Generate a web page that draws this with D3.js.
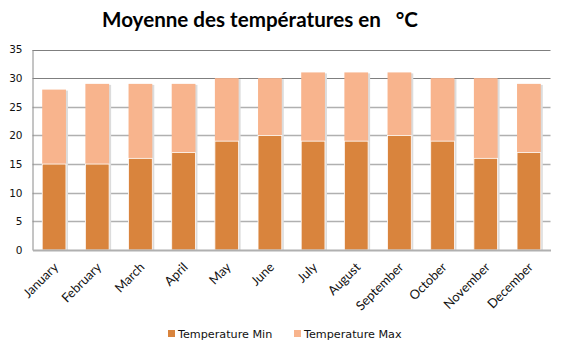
<!DOCTYPE html>
<html><head><meta charset="utf-8">
<script src="https://cdn.jsdelivr.net/npm/d3@7"></script>
<style>body{margin:0;background:#fff}</style>
</head><body>
<script>
const months = ["January","February","March","April","May","June","July","August","September","October","November","December"];
const tempMin = [15,15,16,17,19,20,19,19,20,19,16,17];
const tempMax = [28,29,29,29,30,30,31,31,31,30,30,29];
const yTicks = [0,5,10,15,20,25,30,35];
const seriesNames = ["Temperature Min","Temperature Max"];
const colors = {min:"#D9843D", max:"#F8B48D"};

const W=565,H=353;
const svg=d3.select("body").append("svg").attr("width",W).attr("height",H);
const m={l:32.5,r:14.5,t:49.5,b:103};
const x=d3.scaleBand().domain(months).range([m.l,W-m.r]).paddingInner(0.45).paddingOuter(0.225);
const y=d3.scaleLinear().domain([0,35]).range([H-m.b,m.t]);

svg.append("text").attr("x",260).attr("y",27).attr("text-anchor","middle")
  .attr("font-family","Lato, 'Open Sans', sans-serif").attr("font-weight","bold").attr("font-size",20.6)
  .style("white-space","pre")
  .text("Moyenne des températures en   °C");

// gridlines
svg.append("g").selectAll("line").data(yTicks.filter(d=>d>0)).join("line")
  .attr("x1",m.l).attr("x2",W-m.r).attr("y1",d=>Math.round(y(d))+0.5).attr("y2",d=>Math.round(y(d))+0.5)
  .attr("stroke",d=>d>=30?"#7f7f7f":"#b0b0b0").attr("stroke-width",d=>d>=30?1:1.6);

// y axis
const ya=svg.append("g").attr("transform",`translate(${m.l},0)`).call(d3.axisLeft(y).tickValues(yTicks).tickSize(0).tickPadding(10));
ya.select(".domain").attr("stroke","#8a8a8a");
ya.selectAll("text").attr("font-family","'DejaVu Sans', sans-serif").attr("font-size",10.5).attr("fill","#111");

// bars
const g=svg.append("g");
g.selectAll("rect.sh").data(months).join("rect").attr("class","sh")
  .attr("x",d=>x(d)+2).attr("width",x.bandwidth()).attr("y",(d,i)=>y(tempMax[i])+1)
  .attr("height",(d,i)=>y(0)-y(tempMax[i])-1).attr("fill","#dcdcdc");
g.selectAll("rect.mx").data(months).join("rect").attr("class","mx")
  .attr("x",d=>x(d)).attr("width",x.bandwidth()).attr("y",(d,i)=>y(tempMax[i]))
  .attr("height",(d,i)=>y(0)-y(tempMax[i])).attr("fill",colors.max);
g.selectAll("rect.mn").data(months).join("rect").attr("class","mn")
  .attr("x",d=>x(d)).attr("width",x.bandwidth()).attr("y",(d,i)=>y(tempMin[i]))
  .attr("height",(d,i)=>y(0)-y(tempMin[i])).attr("fill",colors.min)
  .attr("stroke","#fff").attr("stroke-width",0.8);

// x axis
const xa=svg.append("g").attr("transform",`translate(0,${y(0)})`).call(d3.axisBottom(x).tickSize(0));
xa.select(".domain").attr("stroke","#b0b0b0").attr("stroke-width",2);
xa.selectAll("text").attr("font-family","Lato, sans-serif").attr("font-size",12.8).attr("fill","#111")
  .attr("text-anchor","end").attr("x",0).attr("y",0).attr("dx",0).attr("dy",0)
  .attr("transform","translate(5,18) rotate(-45)");

// legend
const leg=svg.append("g").attr("font-family","'DejaVu Sans', sans-serif").attr("font-size",11.2);
const lx=[168,294];
seriesNames.forEach((n,i)=>{
  leg.append("rect").attr("x",lx[i]).attr("y",330).attr("width",7).attr("height",7).attr("fill",i?colors.max:colors.min);
  leg.append("text").attr("x",lx[i]+10).attr("y",338).attr("fill","#111").text(n);
});
</script>
</body></html>
